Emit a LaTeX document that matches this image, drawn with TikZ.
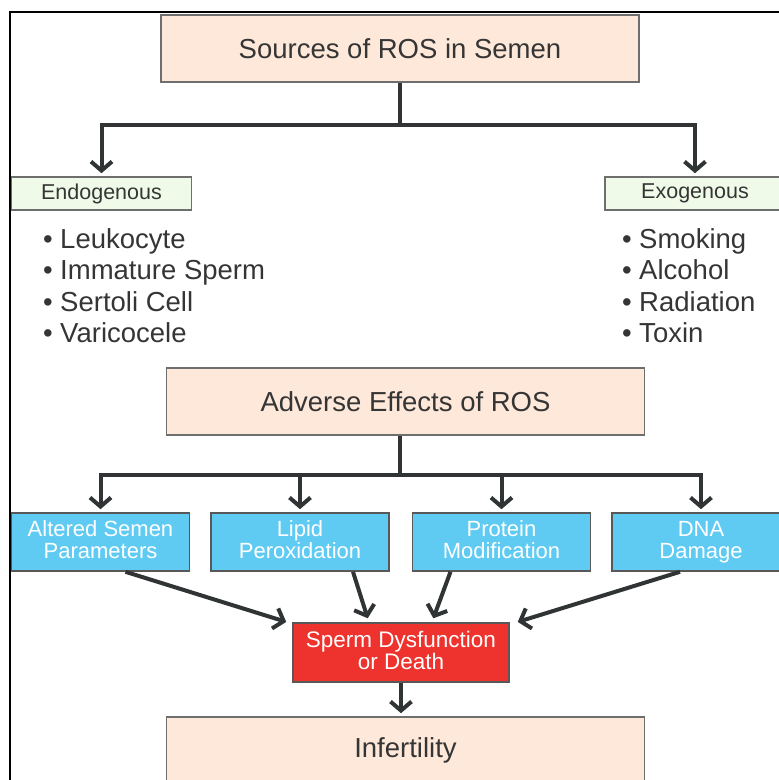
\documentclass[tikz,border=0pt]{standalone}
\usepackage{fontspec}
\setmainfont{Liberation Sans}
\usetikzlibrary{arrows.meta}
\definecolor{peach}{HTML}{FDE8DA}
\definecolor{mint}{HTML}{EFFBE8}
\definecolor{sky}{HTML}{5FCBF3}
\definecolor{alarm}{HTML}{EE322D}
\definecolor{edge}{HTML}{6E6E6E}
\definecolor{ink}{HTML}{303434}
\definecolor{txt}{HTML}{353535}
\begin{document}
\begin{tikzpicture}[x=1pt, y=-1pt, line width=4pt,
  every node/.style={inner sep=0pt, text=txt},
  headbox/.style={draw=edge, line width=1.6pt, fill=peach, minimum width=478pt, minimum height=67pt, font=\fontsize{27.5}{30}\selectfont},
  kindbox/.style={draw=edge, line width=1.6pt, fill=mint, minimum width=180pt, minimum height=33pt, font=\fontsize{21.5}{22}\selectfont},
  item/.style={anchor=base west, font=\fontsize{27.5}{30}\selectfont},
  effbox/.style={draw=edge!80!black, line width=1.6pt, fill=sky, text=white, align=center, minimum width=178pt, minimum height=58pt, font=\fontsize{22}{22}\selectfont, execute at begin node=\rule{0pt}{18pt}, execute at end node=\rule[-5pt]{0pt}{5pt}},
  arr/.style={draw=ink, -{Straight Barb[length=9pt, width=21pt]}, shorten >=3pt}]
  \useasboundingbox (0,0) rectangle (779,780); \clip (0,0) rectangle (779,780);
  \draw[black, line width=2.5pt] (10,785) -- (10,12) -- (785,12);
  % sources
  \node[headbox] (src) at (400,48.5) {Sources of ROS in Semen};
  \node[kindbox] (endo) at (101.5,193.5) {Endogenous};
  \node[kindbox] (exo) at (695,193.5) {Exogenous};
  \foreach \t [count=\i] in {Leukocyte, Immature Sperm, Sertoli Cell, Varicocele}
    \node[item] (endo\i) at (41,216.5+31.5*\i) {\textbullet\ \t};
  \foreach \t [count=\i] in {Smoking, Alcohol, Radiation, Toxin}
    \node[item] (exo\i) at (620,216.5+31.5*\i) {\textbullet\ \t};
  \coordinate (fork1) at (400,125);
  \draw[ink] (src.south) -- (fork1);
  \draw[arr] (fork1) -| (endo.north); \draw[arr] (fork1) -| (exo.north);
  % effects
  \node[headbox] (adv) at (405.5,401.5) {Adverse Effects of ROS};
  \node[effbox] (alt) at (100.5,542) {Altered Semen\\Parameters};
  \node[effbox] (lip) at (300,542) {Lipid\\Peroxidation};
  \node[effbox] (pro) at (501.5,542) {Protein\\Modification};
  \node[effbox] (dna) at (701,542) {DNA\\Damage};
  \coordinate (fork2) at (400,475);
  \draw[ink] (adv.south -| fork2) -- (fork2);
  \foreach \b in {alt, lip, pro, dna} \draw[arr] (fork2) -| (\b.north);
  \node[effbox, fill=alarm, minimum width=216pt, minimum height=59pt, font=\fontsize{22.5}{22}\selectfont] (death) at (401,652.5) {Sperm Dysfunction\\or Death};
  \draw[arr, shorten >=1pt] ([xshift=25pt]alt.south) -- ([xshift=-5pt]death.north west);
  \draw[arr, shorten >=1pt] ([xshift=53pt]lip.south) -- ([xshift=-33pt, yshift=3pt]death.north);
  \draw[arr, shorten >=1pt] ([xshift=-51pt]pro.south) -- ([xshift=32pt, yshift=3pt]death.north);
  \draw[arr, shorten >=1pt] ([xshift=-21pt]dna.south) -- ([xshift=7pt]death.north east);
  % outcome
  \node[headbox, minimum height=66pt] (inf) at (405.5,750) {Infertility};
  \draw[arr] (death.south) -- (death.south |- inf.north);
\end{tikzpicture}
\end{document}
